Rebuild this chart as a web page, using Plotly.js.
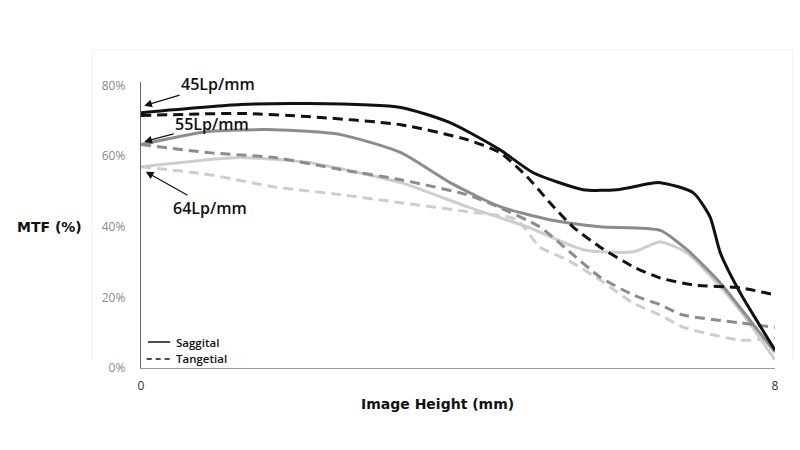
<!DOCTYPE html>
<html>
<head>
<meta charset="utf-8">
<script src="https://cdn.plot.ly/plotly-3.0.1.min.js"></script>
<style>html,body{margin:0;padding:0;background:#fff;}#chart{width:800px;height:450px;}</style>
</head>
<body>
<div id="chart"></div>
<script>
// Image height (mm) and MTF (%)
const s45x = [0, 1.26, 2.11, 3.28, 3.90, 4.53, 4.95, 5.58, 6.01, 6.55, 6.97, 7.18, 7.31, 7.56, 8.0];
const s45y = [72.3, 74.6, 74.9, 73.8, 69.5, 61.8, 55.3, 50.5, 50.5, 52.5, 49.6, 42.8, 32.6, 21.3, 5.1];
const t45x = [0, 1.26, 2.11, 3.28, 4.11, 4.53, 4.87, 5.16, 5.45, 5.79, 6.21, 6.55, 6.97, 7.56, 8.0];
const t45y = [71.5, 72.1, 71.2, 68.9, 64.7, 61.0, 54.2, 46.8, 40.0, 34.3, 28.7, 25.5, 23.5, 22.7, 20.7];
const s55x = [0, 0.85, 1.68, 2.52, 3.28, 3.90, 4.53, 5.16, 5.79, 6.55, 6.89, 7.31, 7.65, 8.0];
const s55y = [63.3, 67.0, 67.5, 66.1, 61.0, 52.5, 45.7, 42.0, 40.0, 39.0, 33.5, 24.1, 14.5, 4.5];
const t55x = [0, 0.85, 1.68, 2.52, 3.28, 4.11, 4.53, 5.03, 5.38, 5.79, 6.21, 6.55, 6.84, 7.56, 8.0];
const t55y = [63.3, 61.0, 59.6, 56.2, 53.3, 49.1, 45.4, 40.0, 33.5, 25.8, 20.7, 17.9, 15.0, 12.8, 11.5];
const s64x = [0, 0.85, 1.26, 2.11, 3.28, 4.11, 4.87, 5.58, 6.21, 6.55, 6.89, 7.31, 7.65, 8.0];
const s64y = [57.0, 59.0, 59.6, 58.2, 52.5, 45.7, 40.0, 33.5, 32.9, 35.7, 32.6, 23.0, 13.6, 2.3];
const t64x = [0, 0.85, 1.68, 2.52, 3.28, 4.11, 4.74, 5.03, 5.38, 5.79, 6.21, 6.55, 6.84, 7.56, 8.0];
const t64y = [57.0, 54.8, 51.3, 49.1, 46.8, 44.3, 42.0, 34.3, 30.6, 25.0, 18.4, 15.0, 11.6, 7.9, 8.5];

const xTicks = [0, 8];
const yTicks = [0, 20, 40, 60, 80];
const legendNames = ['Saggital', 'Tangetial'];
const freqLabels = ['45Lp/mm', '55Lp/mm', '64Lp/mm'];

const cBlack = '#111111', cMid = '#8c8c8c', cLight = '#cdcdcd';
const dashPat = '10px,6px';

function tr(x, y, color, dashed) {
  return {x: x, y: y, type: 'scatter', mode: 'lines', showlegend: false, hoverinfo: 'skip',
    line: {color: color, width: 3, shape: 'spline', smoothing: 0.6, dash: dashed ? dashPat : 'solid'}};
}

const data = [
  tr(t64x, t64y, cLight, true),
  tr(s64x, s64y, cLight, false),
  tr(t55x, t55y, cMid, true),
  tr(s55x, s55y, cMid, false),
  tr(t45x, t45y, cBlack, true),
  tr(s45x, s45y, cBlack, false)
];

const lblFont = {family: 'Open Sans, sans-serif', size: 16, color: '#111', weight: 600};
const arrowCommon = {showarrow: true, arrowhead: 2, arrowsize: 1.3, arrowwidth: 1.2, arrowcolor: '#111',
  font: lblFont, xref: 'x', yref: 'y', xanchor: 'center', yanchor: 'middle'};
const legFont = {family: 'Open Sans, sans-serif', size: 11.5, color: '#111', weight: 600};
const titleFont = {family: 'DejaVu Sans, sans-serif', size: 14, color: '#111', weight: 700};

const legY1 = 0.0909, legY2 = 0.0315;

const layout = {
  width: 800, height: 450,
  margin: {l: 141, r: 25, t: 82, b: 82},
  paper_bgcolor: '#fff', plot_bgcolor: '#fff',
  showlegend: false,
  xaxis: {range: [0, 8], tickvals: xTicks, ticktext: xTicks.map(String), showgrid: false, zeroline: false,
    showline: true, linecolor: '#999', linewidth: 1.2, ticks: '', ticklabelstandoff: 6,
    tickfont: {family: 'Open Sans, sans-serif', size: 12, color: '#333'}, fixedrange: true},
  yaxis: {range: [0, 81], tickvals: yTicks, ticktext: yTicks.map(v => v + '%'), showgrid: false, zeroline: false,
    showline: true, linecolor: '#666', linewidth: 1.2, ticks: '', ticklabelstandoff: 12,
    tickfont: {family: 'Open Sans, sans-serif', size: 12, color: '#888'}, fixedrange: true},
  shapes: [
    {type: 'path', xref: 'paper', yref: 'paper', path: 'M -0.077 0.03 L -0.077 1.112 L 1.028 1.112 L 1.028 0.03',
     line: {color: '#f0f0f0', width: 1}},
    // legend samples
    {type: 'line', xref: 'paper', yref: 'paper', x0: 0.011, x1: 0.046, y0: legY1, y1: legY1,
     line: {color: cBlack, width: 1.5}},
    {type: 'line', xref: 'paper', yref: 'paper', x0: 0.009, x1: 0.046, y0: legY2, y1: legY2,
     line: {color: cBlack, width: 1.5, dash: '5px,4px'}}
  ],
  annotations: [
    Object.assign({x: 0.04, y: 74.3, ax: 74, ay: -22, text: freqLabels[0]}, arrowCommon),
    Object.assign({x: 0.04, y: 64.1, ax: 68, ay: -18, text: freqLabels[1]}, arrowCommon),
    Object.assign({x: 0.06, y: 55.6, ax: 64, ay: 36, text: freqLabels[2]}, arrowCommon),
    {xref: 'paper', yref: 'paper', x: 0.0536, y: legY1, xanchor: 'left', yanchor: 'middle', showarrow: false,
     text: legendNames[0], font: legFont, borderpad: 0},
    {xref: 'paper', yref: 'paper', x: 0.0536, y: legY2, xanchor: 'left', yanchor: 'middle', showarrow: false,
     text: legendNames[1], font: legFont, borderpad: 0},
    {xref: 'paper', yref: 'paper', x: -0.145, y: 0.493, xanchor: 'center', yanchor: 'middle', showarrow: false,
     text: 'MTF (%)', font: titleFont},
    {xref: 'paper', yref: 'paper', x: 0.4677, y: -0.126, xanchor: 'center', yanchor: 'middle', showarrow: false,
     text: 'Image Height (mm)', font: titleFont}
  ]
};

Plotly.newPlot('chart', data, layout, {displayModeBar: false, staticPlot: true});
</script>
</body>
</html>
